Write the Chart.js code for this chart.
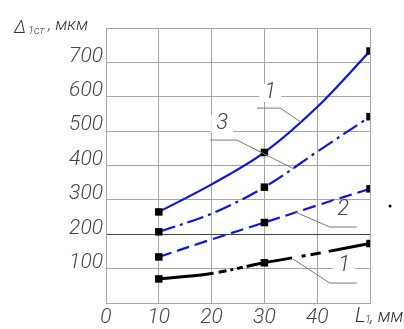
<!DOCTYPE html>
<html>
<head>
<meta charset="utf-8">
<script src="https://cdn.jsdelivr.net/npm/chart.js@4.4.0/dist/chart.umd.min.js"></script>
<style>
  body { margin: 0; background: #fff; }
  canvas { display: block; }
</style>
</head>
<body>
<canvas id="myChart" width="404" height="329"></canvas>
<script>
// values, L1 in mm, deviation in mkm
var xValues = [10, 20, 30, 40, 50];
var curve1 = [265, 345, 438, 570, 733];
var curve3 = [207, 260, 337, 440, 542];
var curve2 = [134, 185, 234, 284, 332];
var curve1low = [70, 86, 117, 144, 173];
var markerX = [10, 30, 50];
var xTicks = [0, 10, 20, 30, 40];
var yTicks = [100, 200, 300, 400, 500, 600, 700];

// callout labels, in data units: label centre, then the leader line
var callouts = [
    { text: '1', at: [31.1, 611], leader: [[28.6, 567], [33, 567], [37.1, 524]] },
    { text: '3', at: [22.0, 521], leader: [[19.7, 474], [24.8, 474], [35.6, 390]] },
    { text: '2', at: [44.9, 271], leader: [[35.8, 265], [42.4, 221], [47.5, 221]] },
    { text: '1', at: [45.1, 108], leader: [[35.4, 128], [42.4, 58], [47.5, 58]] }
];

var FONT = "Roboto, 'Liberation Sans', sans-serif";
var BLUE = '#0a14e6';
var TXT = '#444';

function pts(vals) {
    return xValues.map(function(x, i) { return { x: x, y: vals[i] }; });
}
function radii() {
    return xValues.map(function(x) { return markerX.indexOf(x) >= 0 ? 5.3 : 0; });
}
function ds(vals, color, width, dash) {
    return {
        data: pts(vals),
        borderColor: color,
        borderWidth: width,
        borderDash: dash,
        tension: 0.35,
        pointStyle: 'rect',
        pointRadius: radii(),
        pointBackgroundColor: '#000',
        pointBorderColor: '#000',
        pointBorderWidth: 0
    };
}
function f(size) { return 'italic 300 ' + size + 'px ' + FONT; }

var extras = {
    id: 'extras',
    afterDraw: function(chart) {
        var c = chart.ctx, xs = chart.scales.x, ys = chart.scales.y;
        c.save();
        // leaders + labels
        callouts.forEach(function(cl) {
            c.strokeStyle = '#777';
            c.lineWidth = 1;
            c.setLineDash([]);
            c.beginPath();
            cl.leader.forEach(function(p, i) {
                var px = xs.getPixelForValue(p[0]), py = ys.getPixelForValue(p[1]);
                if (i == 0) c.moveTo(px, py); else c.lineTo(px, py);
            });
            c.stroke();
            var lx = xs.getPixelForValue(cl.at[0]), ly = ys.getPixelForValue(cl.at[1]);
            c.font = f(22);
            var w = c.measureText(cl.text).width;
            c.fillStyle = '#fff';
            c.fillRect(lx - w / 2 - 5, ly - 9, w + 10, 18);
            c.fillStyle = TXT;
            c.textAlign = 'center';
            c.textBaseline = 'middle';
            c.fillText(cl.text, lx, ly);
        });
        // stray dot on the right
        c.fillStyle = '#000';
        c.beginPath();
        c.arc(xs.getPixelForValue(53.8), ys.getPixelForValue(282), 1.5, 0, Math.PI * 2);
        c.fill();

        // axis titles
        c.fillStyle = '#333';
        c.textAlign = 'left';
        c.textBaseline = 'alphabetic';
        c.font = f(18);
        c.fillText('\u0394', 14, 33);
        c.font = f(11);
        c.fillText('1cт', 28, 34);
        c.font = f(17);
        c.fillText(', мкм', 48, 30);

        var lx0 = xs.getPixelForValue(50) - 15;
        c.font = f(21);
        c.fillText('L', lx0, 322);
        c.font = f(11);
        c.fillText('1', lx0 + 10, 323);
        c.font = f(18);
        c.fillText(', мм', lx0 + 15, 322);
        c.restore();
    }
};

var tickFont = { family: FONT, size: 21, style: 'italic', weight: 300 };

var ctx = document.getElementById('myChart').getContext('2d');
window.myLine = new Chart(ctx, {
    type: 'line',
    data: {
        datasets: [
            ds(curve1, BLUE, 2.2, []),
            ds(curve3, BLUE, 2.2, [17, 5, 3, 5]),
            ds(curve2, BLUE, 2.2, [13, 6]),
            ds(curve1low, '#000', 3, [55, 5, 8, 4, 3, 4, 6, 4, 46, 10, 4, 5, 10, 8, 42])
        ]
    },
    options: {
        responsive: false,
        animation: false,
        devicePixelRatio: 1,
        layout: { padding: { left: 0, top: 28, right: 34, bottom: 0 } },
        plugins: { legend: { display: false }, tooltip: { enabled: false } },
        scales: {
            x: {
                type: 'linear',
                min: 0, max: 50,
                afterFit: function(s) { s.height = 26; },
                afterBuildTicks: function(s) {
                    s.ticks = xTicks.concat([50]).map(function(v) { return { value: v }; });
                },
                ticks: {
                    padding: 2,
                    color: TXT,
                    font: tickFont,
                    callback: function(v) { return xTicks.indexOf(v) >= 0 ? String(v) : ''; }
                },
                grid: { color: '#a5a5a5', lineWidth: 1, drawTicks: false },
                border: { color: '#a5a5a5' }
            },
            y: {
                min: 0, max: 800,
                afterFit: function(s) { s.width = 106; },
                afterBuildTicks: function(s) {
                    s.ticks = [0].concat(yTicks, [800]).map(function(v) { return { value: v }; });
                },
                ticks: {
                    padding: 3,
                    labelOffset: -6,
                    color: TXT,
                    font: tickFont,
                    callback: function(v) { return yTicks.indexOf(v) >= 0 ? String(v) : ''; }
                },
                grid: {
                    color: function(c) { return c.tick && c.tick.value == 200 ? '#444' : '#a5a5a5'; },
                    lineWidth: 1,
                    drawTicks: false
                },
                border: { color: '#a5a5a5' }
            }
        }
    },
    plugins: [extras]
});
</script>
</body>
</html>
